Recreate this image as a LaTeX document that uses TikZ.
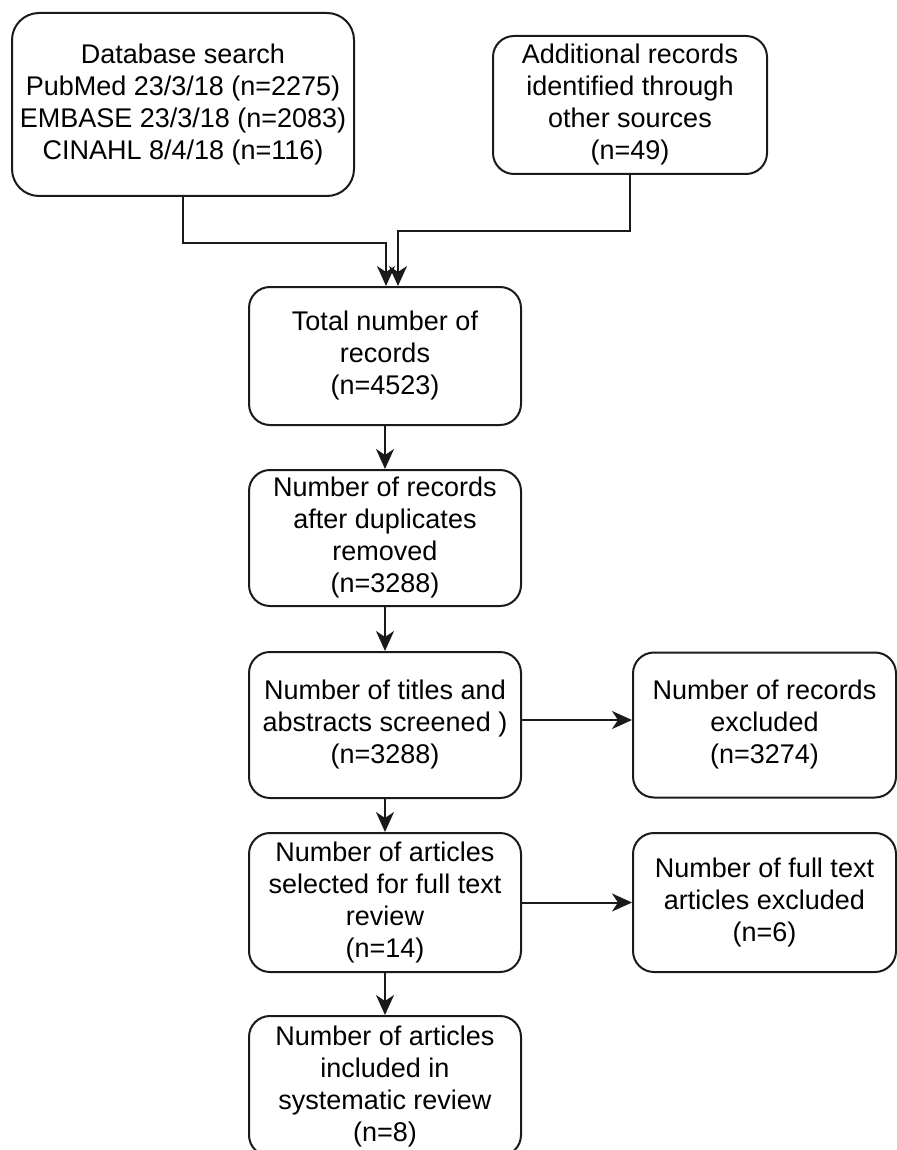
\documentclass[tikz,border=0pt]{standalone}
\usepackage{fontspec}
\setmainfont{Liberation Sans}
\usetikzlibrary{arrows.meta}
\definecolor{edgec}{HTML}{1A1A1A}
\tikzset{
  stage/.style={draw=edgec, line width=1pt, rounded corners=10.5pt, align=center, inner sep=0pt, minimum width=136pt, font=\fontsize{13.5}{16}\selectfont},
  flow/.style={draw=edgec, line width=1pt, -{Stealth[length=10pt,width=9pt,inset=3pt]}},
}

\begin{document}
\begin{tikzpicture}[x=0.5pt, y=-0.5pt]
\path[use as bounding box, fill=white] (0,0) rectangle (897,1150);
\node[stage, minimum width=171pt, minimum height=91.5pt, rounded corners=13.5pt] (db) at (183,104.5) {Database search\\PubMed 23/3/18 (n=2275)\\EMBASE 23/3/18 (n=2083)\\CINAHL 8/4/18 (n=116)};
\node[stage, minimum width=137pt, minimum height=69pt] (add) at (630,105) {Additional records\\identified through\\other sources\\(n=49)};
\node[stage, minimum height=69pt] (total) at (385,356) {Total number of\\records\\(n=4523)};
\node[stage, minimum height=68pt] (dup) at (385,538) {Number of records\\after duplicates\\removed\\(n=3288)};
\node[stage, minimum height=73pt] (screen) at (385,725) {Number of titles and\\abstracts screened )\\(n=3288)};
\node[stage, minimum width=131.5pt, minimum height=72.5pt] (excl) at (764.5,725) {Number of records\\excluded\\(n=3274)};
\node[stage, minimum height=69.5pt] (full) at (385,902.5) {Number of articles\\selected for full text\\review\\(n=14)};
\node[stage, minimum width=131.5pt, minimum height=69.5pt] (fexcl) at (764.5,902.5) {Number of full text\\articles excluded\\(n=6)};
\node[stage, minimum height=70pt] (incl) at (385,1086) {Number of articles\\included in\\systematic review\\(n=8)};

\draw[flow] (db.south) -- ++(0,46) -| ([xshift=0.5pt]total.north);
\draw[flow] (add.south) -- ++(0,56) -| ([xshift=6.5pt]total.north);
\draw[flow] (total) -- (dup);
\draw[flow] (dup) -- (screen);
\draw[flow] ([yshift=2.5pt]screen.east) -- ([yshift=2.5pt]excl.west);
\draw[flow] (screen) -- (full);
\draw[flow] (full) -- (fexcl);
\draw[flow] (full) -- (incl);
\end{tikzpicture}
\end{document}
